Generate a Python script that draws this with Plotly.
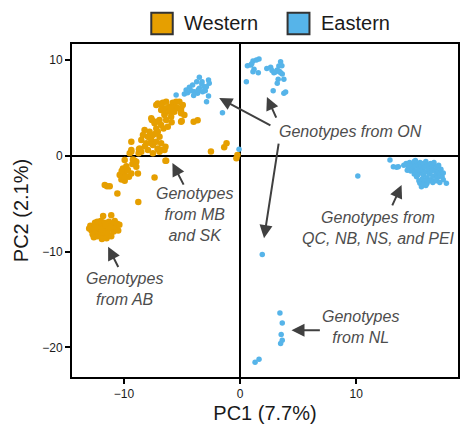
import plotly.graph_objects as go

# ---------------- data (PC1, PC2) ----------------
western_x = [
    # AB cluster
    -12.9, -12.8, -12.7, -12.6, -12.5, -12.4, -12.3, -12.2, -12.1, -12.0, -12.0, -11.9, -11.8, -11.8,
    -11.7, -11.6, -11.5, -11.4, -11.3, -11.2, -11.1, -11.0, -10.9, -10.8, -10.7, -10.6, -10.5, -12.6,
    -11.9, -11.5, -12.3, -11.3, -12.0, -11.6, -12.4, -10.4, -11.1, -13.0,
    # lower curve
    -11.66, -11.46, -11.23, -10.57, -8.77, -10.09, -9.94, -10.31, -10.22, -9.94, -9.57, -9.37, -9.66,
    -9.28, -9.08, -9.23, -8.80, -7.37, -6.37, -9.37, -8.66, -8.51, -9.51, -7.65, -7.09, -6.80, -9.94,
    -8.94, -10.37, -8.94, -9.86, -10.2, -9.8,
    # middle cluster
    -8.23, -7.80, -7.22, -7.09, -8.37, -7.94, -7.51, -6.94, -8.51, -7.65, -7.22, -8.08, -7.51, -6.80,
    -8.66, -7.94, -7.09, -6.51, -9.37, -9.37, -6.43, -7.37, -7.51, -6.94, -6.43, -8.74, -8.71, -7.8,
    -7.3, -8.2,
    # upper cluster
    -7.22, -6.66, -6.37, -5.80, -5.23, -6.08, -5.66, -5.08, -6.37, -6.80, -6.08, -5.66, -6.51, -5.94,
    -5.08, -6.94, -6.37, -4.80, -5.08, -7.60, -6.80, -6.60, -7.09, -6.80, -5.51, -4.94, -5.08, -7.65,
    -7.22, -6.23, -5.03, -6.0, -5.4, -6.5, -5.9,
    # toward origin
    -4.0, -3.66, -2.51, -1.37, -1.17, -0.23, -0.32,
]
western_y = [
    # AB cluster
    -7.3, -7.8, -8.2, -7.5, -7.0, -7.9, -8.4, -7.2, -7.6, -8.0, -6.8, -7.4, -8.3, -6.3,
    -7.0, -7.8, -7.3, -8.1, -6.9, -7.6, -6.2, -7.2, -7.9, -6.8, -7.5, -7.1, -7.8, -8.5,
    -8.7, -8.6, -6.9, -7.4, -7.7, -7.1, -7.5, -7.2, -8.4, -7.6,
    # lower curve
    -3.06, -3.17, -3.17, -3.93, -4.84, -1.32, -1.78, -1.95, -2.47, -2.61, -2.19, -1.84, -1.49,
    -0.87, -0.52, -0.38, -1.84, -2.26, -0.52, 0.60, 0.77, 0.42, 0.25, 1.30, 0.77, 0.60, -0.45,
    -0.63, -2.02, -1.15, -2.19, -1.6, -1.1,
    # middle cluster
    2.69, 2.51, 2.86, 2.51, 2.16, 1.99, 2.16, 1.99, 1.64, 1.64, 1.46, 1.30, 1.12, 1.30,
    0.60, 0.60, 0.67, 0.60, 1.46, 0.42, 0.94, 3.39, 0.25, 0.42, -0.52, 0.25, 0.67, 1.9,
    2.3, 1.0,
    # upper cluster
    5.30, 5.54, 5.64, 5.54, 5.64, 5.12, 5.19, 4.95, 4.95, 4.78, 4.60, 4.60, 4.25, 4.08,
    4.43, 3.73, 3.73, 4.25, 3.55, 3.73, 3.21, 2.86, 5.47, 5.30, 5.64, 5.30, 4.60, 3.91,
    3.55, 3.03, 3.63, 4.9, 5.0, 4.4, 3.5,
    # toward origin
    3.55, 3.70, 0.45, 0.88, 1.30, 0.07, -0.27,
]

eastern_x = [
    # ON (west of PC1 = 0)
    -3.51, -3.74, -3.28, -2.72, -2.66, -4.09, -4.37, -4.65, -4.80, -5.51, -3.94, -3.66, -3.23, -3.00,
    -2.72, -2.89, -3.09, -3.51, -4.52, -1.52, -4.2, -3.3, -2.9, -4.0, -3.6, -0.09,
    # ON (east of PC1 = 0)
    0.63, 0.92, 1.11, 1.40, 1.63, 1.20, 1.11, 1.57, 0.54, 2.63, 2.91, 3.20, 3.34, 3.49, 3.49, 3.63,
    3.28, 3.77, 3.20, 2.85, 3.77, 3.92, 2.75, 3.05, 3.40, 2.30, 1.00, 3.60,
    # QC, NB, NS, PEI
    10.14, 12.91, 13.20, 13.48, 13.63, 17.77, 15.49, 15.62,
    14.1, 14.3, 14.5, 14.6, 14.8, 14.9, 15.0, 15.1, 15.2, 15.3, 15.4, 15.5, 15.5, 15.6, 15.7, 15.8,
    15.8, 15.9, 16.0, 16.0, 16.1, 16.2, 16.2, 16.3, 16.4, 16.4, 16.5, 16.5, 16.6, 16.7, 16.7, 16.8,
    16.9, 17.0, 17.0, 17.1, 17.2, 17.3, 17.4, 17.5, 17.5, 15.2, 15.4, 15.6, 15.7, 15.9, 16.1, 16.3,
    16.6, 16.9, 17.2, 15.0, 14.7, 15.3, 16.7, 17.1, 15.8, 16.0, 15.1, 14.4,
    # NL and outliers
    1.91, 3.43, 3.63, 3.54, 3.63, 3.49, 1.63, 1.29,
]
eastern_y = [
    # ON (west)
    8.19, 7.73, 7.73, 7.91, 7.57, 7.39, 7.15, 6.87, 6.45, 6.34, 6.69, 6.52, 6.69, 6.79,
    6.24, 5.64, 7.21, 7.04, 6.58, 4.49, 6.8, 7.5, 7.2, 6.3, 6.9, 0.67,
    # ON (east)
    9.41, 9.48, 9.90, 10.00, 10.11, 9.03, 8.78, 8.67, 7.73, 9.24, 8.67, 8.96, 9.37, 9.82, 8.67, 8.54,
    7.98, 7.98, 7.57, 6.79, 6.52, 6.66, 8.90, 8.75, 8.80, 9.10, 9.60, 9.40,
    # QC, NB, NS, PEI
    -2.12, -0.45, -1.15, -1.21, -1.15, -2.88, -2.88, -3.24,
    -1.0, -0.8, -1.2, -0.7, -1.0, -1.4, -0.6, -1.1, -1.6, -0.9, -1.3, -0.7, -1.8, -1.1, -1.5, -0.8,
    -2.0, -1.2, -1.7, -0.6, -2.3, -1.0, -1.4, -1.9, -0.8, -2.5, -1.2, -1.6, -2.1, -1.0, -2.6, -1.5,
    -1.9, -1.2, -2.3, -1.7, -2.0, -1.4, -2.2, -1.8, -2.5, -2.2, -2.6, -2.9, -2.4, -2.7, -2.9, -2.6,
    -2.8, -2.6, -2.8, -1.9, -1.6, -2.0, -0.7, -1.0, -3.0, -3.1, -0.5, -1.5,
    # NL and outliers
    -10.30, -16.41, -17.45, -18.66, -19.26, -19.60, -21.25, -21.56,
]

group_names = ["Western", "Eastern"]
group_colors = ["#E69F00", "#56B4E9"]

x_tickvals = [-10, 0, 10]
y_tickvals = [-20, -10, 0, 10]

FONT = "Liberation Sans, Arial, sans-serif"

fig = go.Figure()
fig.add_trace(go.Scatter(x=western_x, y=western_y, mode="markers", name=group_names[0],
                         marker=dict(color=group_colors[0], size=6.5, line=dict(width=0)),
                         showlegend=False))
fig.add_trace(go.Scatter(x=eastern_x, y=eastern_y, mode="markers", name=group_names[1],
                         marker=dict(color=group_colors[1], size=5.5, line=dict(width=0)),
                         showlegend=False))

# ---------------- annotations ----------------
TXT = dict(family=FONT, size=16, color="#4d4d4d")
labels = [
    (9.51, 2.51, "<i>Genotypes from ON</i>"),
    (-3.94, -6.12, "<i>Genotypes<br>from MB<br>and SK</i>"),
    (-10.0, -13.9, "<i>Genotypes<br>from AB</i>"),
    (11.91, -7.52, "<i>Genotypes from<br>QC, NB, NS, and PEI</i>"),
    (10.34, -17.92, "<i>Genotypes<br>from NL</i>"),
]
for lx, ly, t in labels:
    fig.add_annotation(x=lx, y=ly, text=t, showarrow=False, font=TXT, align="center",
                       xanchor="center", yanchor="middle")

arrows = [  # (tail x, tail y, head x, head y)
    (2.74, 3.10, -1.80, 6.03),
    (3.17, 3.83, 2.31, 6.13),
    (3.34, 1.43, 2.06, -8.60),
    (-4.80, -3.17, -5.83, -0.76),
    (-10.43, -11.77, -11.37, -9.51),
    (13.05, -5.33, 13.91, -3.06),
    (7.0, -18.21, 4.43, -18.21),
]
for tx, ty, hx, hy in arrows:
    fig.add_annotation(x=hx, y=hy, ax=tx, ay=ty, axref="x", ayref="y", text="",
                       showarrow=True, arrowhead=2, arrowsize=1.3, arrowwidth=2,
                       arrowcolor="#404040", standoff=0, startstandoff=0)

# ---------------- manual legend ----------------
leg_sq = [(0.2054, 0.261), (0.5585, 0.6152)]
leg_tx = [0.2853, 0.641]
for (x0, x1), tx, name, col in zip(leg_sq, leg_tx, group_names, group_colors):
    fig.add_shape(type="rect", xref="paper", yref="paper", x0=x0, x1=x1, y0=1.0291, y1=1.094,
                  fillcolor=col, line=dict(color="#333333", width=2))
    fig.add_annotation(xref="paper", yref="paper", x=tx, y=1.0616, text=name, showarrow=False,
                       xanchor="left", yanchor="middle",
                       font=dict(family=FONT, size=20, color="#1a1a1a"))

axis_common = dict(showgrid=False, showline=True, mirror=True, linecolor="black", linewidth=2,
                   zeroline=True, zerolinecolor="black", zerolinewidth=2,
                   ticks="outside", ticklen=5, tickwidth=1.5, tickcolor="black",
                   tickfont=dict(family=FONT, size=12, color="#1a1a1a"))

fig.update_xaxes(range=[-14.48, 18.77], tickvals=x_tickvals,
                 title=dict(text="PC1 (7.7%)", font=dict(family=FONT, size=20, color="#1a1a1a"),
                            standoff=6), **axis_common)
fig.update_yaxes(range=[-23.1, 11.67], tickvals=y_tickvals,
                 title=dict(text="PC2 (2.1%)", font=dict(family=FONT, size=20, color="#1a1a1a"),
                            standoff=8), **axis_common)

fig.update_layout(width=461, height=425, margin=dict(l=72, r=1, t=44, b=48),
                  plot_bgcolor="white", paper_bgcolor="white", showlegend=False,
                  font=dict(family=FONT))

fig.write_html("out.html")
